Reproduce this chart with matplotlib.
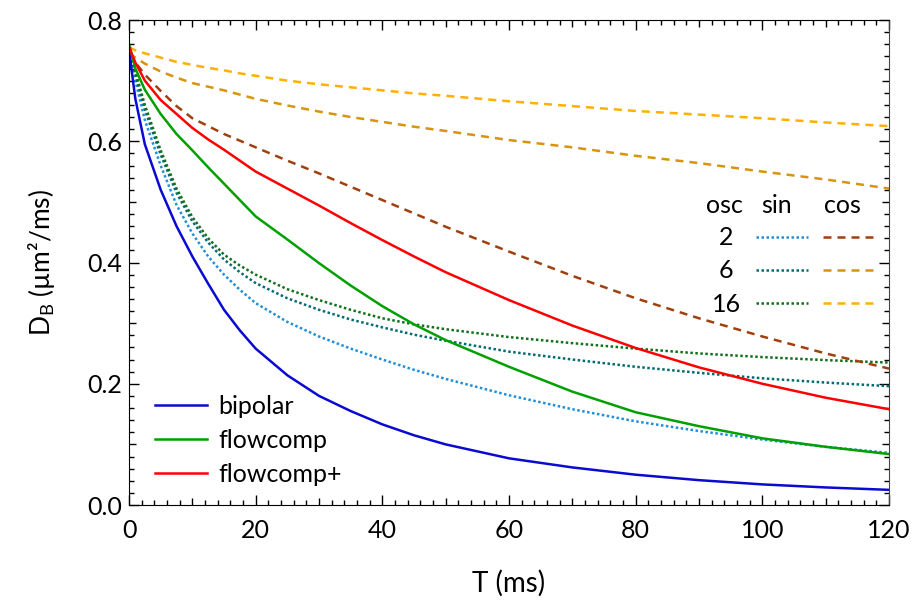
import numpy as np
import matplotlib
matplotlib.use("Agg")
import matplotlib.pyplot as plt
from matplotlib.ticker import MultipleLocator, FixedLocator
from matplotlib.lines import Line2D

plt.rcParams['font.family'] = ['Lato', 'DejaVu Sans']

T = [0, 1, 2.5, 5, 7.5, 10, 12.5, 15, 17.5, 20, 25, 30, 35, 40, 45, 50, 60, 70, 80, 90, 100, 110, 120]

# D_B (um^2/ms)
bipolar   = [0.750, 0.670, 0.595, 0.520, 0.460, 0.410, 0.365, 0.322, 0.288, 0.258, 0.214, 0.180, 0.155, 0.133, 0.115, 0.100, 0.077, 0.062, 0.050, 0.041, 0.034, 0.029, 0.025]
flowcomp  = [0.761, 0.720, 0.685, 0.645, 0.612, 0.585, 0.557, 0.530, 0.503, 0.476, 0.438, 0.399, 0.362, 0.328, 0.298, 0.272, 0.228, 0.187, 0.153, 0.130, 0.110, 0.096, 0.084]
flowcompp = [0.755, 0.730, 0.700, 0.668, 0.645, 0.622, 0.603, 0.586, 0.568, 0.550, 0.522, 0.494, 0.465, 0.437, 0.410, 0.384, 0.338, 0.296, 0.259, 0.227, 0.200, 0.177, 0.158]

sin2  = [0.750, 0.700, 0.635, 0.560, 0.495, 0.448, 0.410, 0.380, 0.355, 0.333, 0.302, 0.278, 0.258, 0.240, 0.223, 0.208, 0.181, 0.158, 0.138, 0.122, 0.108, 0.096, 0.086]
sin6  = [0.750, 0.710, 0.652, 0.578, 0.515, 0.468, 0.433, 0.405, 0.384, 0.366, 0.341, 0.322, 0.306, 0.293, 0.281, 0.271, 0.253, 0.240, 0.228, 0.218, 0.209, 0.202, 0.196]
sin16 = [0.750, 0.715, 0.660, 0.585, 0.522, 0.475, 0.440, 0.413, 0.395, 0.380, 0.356, 0.338, 0.322, 0.308, 0.298, 0.290, 0.277, 0.267, 0.258, 0.250, 0.244, 0.239, 0.235]

cos2  = [0.745, 0.730, 0.710, 0.683, 0.658, 0.638, 0.625, 0.612, 0.601, 0.590, 0.568, 0.547, 0.525, 0.503, 0.481, 0.459, 0.418, 0.378, 0.341, 0.308, 0.278, 0.250, 0.225]
cos6  = [0.745, 0.738, 0.728, 0.715, 0.705, 0.696, 0.690, 0.684, 0.677, 0.670, 0.659, 0.649, 0.640, 0.632, 0.624, 0.617, 0.602, 0.590, 0.576, 0.564, 0.550, 0.537, 0.522]
cos16 = [0.755, 0.750, 0.745, 0.738, 0.731, 0.726, 0.721, 0.717, 0.712, 0.708, 0.700, 0.694, 0.689, 0.684, 0.679, 0.675, 0.666, 0.658, 0.650, 0.644, 0.638, 0.631, 0.625]

osc_labels = ['2', '6', '16']
c_sin = ['#1f8fd8', '#006b70', '#11701a']
c_cos = ['#a0400f', '#d8940c', '#ffb000']

dot = (0, (1, 1))
dash = (0, (3.2, 2.4))
lw = 1.8

fig = plt.figure(figsize=(9.15, 6.03), dpi=100)
ax = fig.add_axes([0.141, 0.1625, 0.8306, 0.8043])

for y, c in zip([sin2, sin6, sin16], c_sin):
    ax.plot(T, y, color=c, lw=lw, ls=dot)
for y, c in zip([cos2, cos6, cos16], c_cos):
    ax.plot(T, y, color=c, lw=lw, ls=dash)
h1, = ax.plot(T, bipolar, color='#0a0ad0', lw=lw)
h2, = ax.plot(T, flowcomp, color='#00a000', lw=lw)
h3, = ax.plot(T, flowcompp, color='#ff0000', lw=lw)

ax.set_xlim(0, 120)
ax.set_ylim(0, 0.8)

ax.legend([h1, h2, h3], ['bipolar', 'flowcomp', 'flowcomp+'], loc='lower left',
          bbox_to_anchor=(0.008, 0.0), frameon=False, fontsize=18,
          handlelength=2.1, handletextpad=0.45, labelspacing=0.44,
          borderaxespad=0.38)

# osc / sin / cos table
fs = 18
ax.text(0.784, 0.602, 'osc', transform=ax.transAxes, ha='center', va='baseline', fontsize=fs)
ax.text(0.852, 0.602, 'sin', transform=ax.transAxes, ha='center', va='baseline', fontsize=fs)
ax.text(0.939, 0.602, 'cos', transform=ax.transAxes, ha='center', va='baseline', fontsize=fs)
for i, lab in enumerate(osc_labels):
    yb = 0.536 - i * 0.0685
    yl = 0.5526 - i * 0.068
    ax.text(0.786, yb, lab, transform=ax.transAxes, ha='center', va='baseline', fontsize=fs)
    ax.add_line(Line2D([0.825, 0.893], [yl, yl], transform=ax.transAxes,
                       color=c_sin[i], lw=lw, ls=dot))
    ax.add_line(Line2D([0.913, 0.982], [yl, yl], transform=ax.transAxes,
                       color=c_cos[i], lw=lw, ls=dash))

# ticks: labelled every 20 / 0.2, medium at 10 / 0.1, minor at 2 / 0.02
ax.xaxis.set_major_locator(FixedLocator(np.arange(0, 121, 10)))
ax.xaxis.set_minor_locator(MultipleLocator(2))
ax.yaxis.set_major_locator(FixedLocator(np.arange(0, 0.81, 0.1)))
ax.yaxis.set_minor_locator(MultipleLocator(0.02))
ax.tick_params(which='both', direction='in', top=True, right=True, labelsize=18, width=1)
ax.tick_params(which='major', length=7)
ax.tick_params(which='minor', length=3.6)
ax.tick_params(axis='x', pad=10)
ax.tick_params(axis='y', pad=5)
ax.set_xticklabels([f'{v:g}' if v % 20 == 0 else '' for v in np.arange(0, 121, 10)])
ax.set_yticklabels([f'{v:.1f}' if round(v * 10) % 2 == 0 else '' for v in np.arange(0, 0.81, 0.1)])
for tick, v in zip(ax.xaxis.get_major_ticks(), np.arange(0, 121, 10)):
    if v % 20 != 0:
        tick.tick1line.set_markersize(4.8)
        tick.tick2line.set_markersize(4.8)
for tick, v in zip(ax.yaxis.get_major_ticks(), np.arange(0, 0.81, 0.1)):
    if round(v * 10) % 2 != 0:
        tick.tick1line.set_markersize(4.8)
        tick.tick2line.set_markersize(4.8)
ax.spines['right'].set_color('#444444')

ax.set_xlabel('T (ms)', fontsize=20, labelpad=20)
ax.set_ylabel(r'$\mathregular{D_B}$ (µm²/ms)', fontsize=19, labelpad=22)

fig.savefig('out.png', dpi=100)
